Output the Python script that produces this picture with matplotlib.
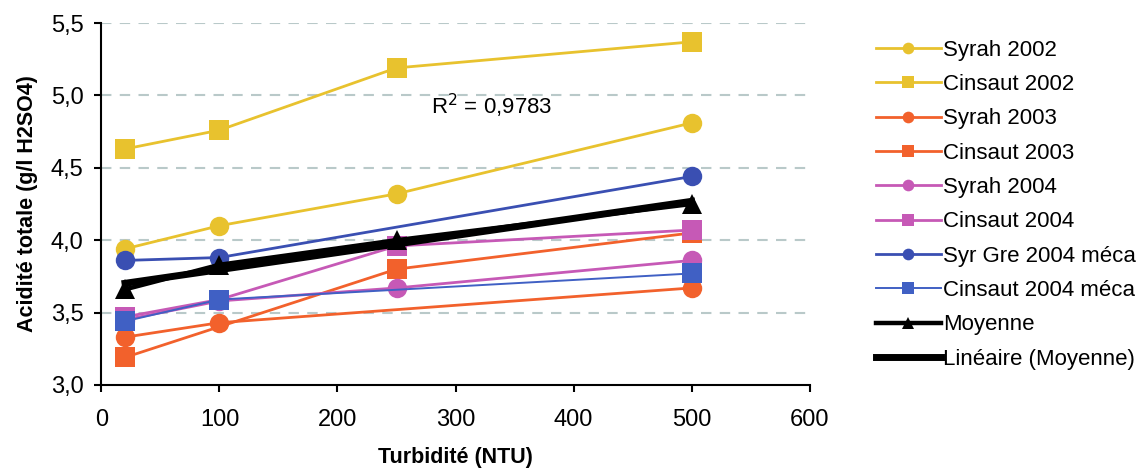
import numpy as np
import matplotlib
matplotlib.use("Agg")
import matplotlib.pyplot as plt
from matplotlib.ticker import FuncFormatter

plt.rcParams["font.family"] = ["Liberation Sans", "DejaVu Sans"]

# -----------------------------
# Data
# -----------------------------
turbidity = [20, 100, 250, 500]

syrah_2002 = [3.94, 4.10, 4.32, 4.81]
cinsaut_2002 = [4.63, 4.76, 5.19, 5.37]
syrah_2003 = [3.33, 3.43, np.nan, 3.67]
cinsaut_2003 = [3.19, np.nan, 3.80, 4.05]
syrah_2004 = [3.45, 3.58, 3.67, 3.86]
cinsaut_2004 = [3.47, 3.59, 3.96, 4.07]
syr_gre_2004_meca = [3.86, 3.88, np.nan, 4.44]
cinsaut_2004_meca = [3.44, 3.59, np.nan, 3.77]
moyenne = [3.66, 3.83, 4.00, 4.25]

labels = ["Syrah 2002", "Cinsaut 2002", "Syrah 2003", "Cinsaut 2003",
          "Syrah 2004", "Cinsaut 2004", "Syr Gre 2004 méca",
          "Cinsaut 2004 méca"]
series = [syrah_2002, cinsaut_2002, syrah_2003, cinsaut_2003,
          syrah_2004, cinsaut_2004, syr_gre_2004_meca, cinsaut_2004_meca]

YELLOW = "#e8c22e"
ORANGE = "#f2612c"
MAGENTA = "#c659b6"
BLUE = "#3a4fb2"
BLUE_LIGHT = "#4060c4"

styles = [
    (YELLOW, "o", 14, 2.0),
    (YELLOW, "s", 15, 2.0),
    (ORANGE, "o", 14, 2.0),
    (ORANGE, "s", 15, 2.0),
    (MAGENTA, "o", 14, 2.0),
    (MAGENTA, "s", 15, 2.0),
    (BLUE, "o", 14, 2.0),
    (BLUE_LIGHT, "s", 15, 1.4),
]

# -----------------------------
# Plot
# -----------------------------
fig = plt.figure(figsize=(11.46, 4.70), dpi=100)
ax = fig.add_axes([0.0885, 0.181, 0.618, 0.770])

x = np.array(turbidity, dtype=float)
handles = []
for vals, lab, (col, mk, ms, lw) in zip(series, labels, styles):
    y = np.array(vals, dtype=float)
    ok = ~np.isnan(y)
    h, = ax.plot(x[ok], y[ok], color=col, marker=mk, markersize=ms,
                 linewidth=lw, markeredgewidth=0, label=lab)
    handles.append(h)

h_moy, = ax.plot(x, moyenne, color="black", marker="^", markersize=15,
                 linewidth=3.2, markeredgewidth=0, label="Moyenne")
handles.append(h_moy)

# linear trend of the mean
coef = np.polyfit(x, moyenne, 1)
xt = np.array([x.min(), x.max()])
h_lin, = ax.plot(xt, np.polyval(coef, xt), color="black", linewidth=5,
                 label="Linéaire (Moyenne)")
handles.append(h_lin)

ax.text(279, 4.93, "R$^2$ = 0,9783", fontsize=16, va="center", ha="left")

ax.set_xlim(0, 600)
ax.set_ylim(3.0, 5.5)
ax.set_xticks(range(0, 601, 100))
ax.set_yticks(np.arange(3.0, 5.51, 0.5))
ax.yaxis.set_major_formatter(FuncFormatter(lambda v, p: f"{v:.1f}".replace(".", ",")))
ax.tick_params(labelsize=17, length=5, width=1.5, colors="black")
ax.tick_params(axis="y", pad=8)
ax.tick_params(axis="x", pad=12)

for yv in np.arange(3.5, 5.51, 0.5):
    ax.axhline(yv, color="#b9c9c9", linestyle=(0, (5, 4)), linewidth=1.5,
               zorder=0)

for s in ["top", "right"]:
    ax.spines[s].set_visible(False)
for s in ["left", "bottom"]:
    ax.spines[s].set_linewidth(1.5)

ax.set_xlabel("Turbidité (NTU)", fontsize=15.5, fontweight="bold", labelpad=12)
ax.set_ylabel("Acidité totale (g/l H2SO4)", fontsize=15.5, fontweight="bold",
              labelpad=9)

fig.legend(handles=handles, loc="upper left", bbox_to_anchor=(0.747, 0.958),
           frameon=False, fontsize=16, handlelength=2.9, handletextpad=0.1,
           labelspacing=0.6, markerscale=0.6)

fig.savefig("out.png", dpi=100)
